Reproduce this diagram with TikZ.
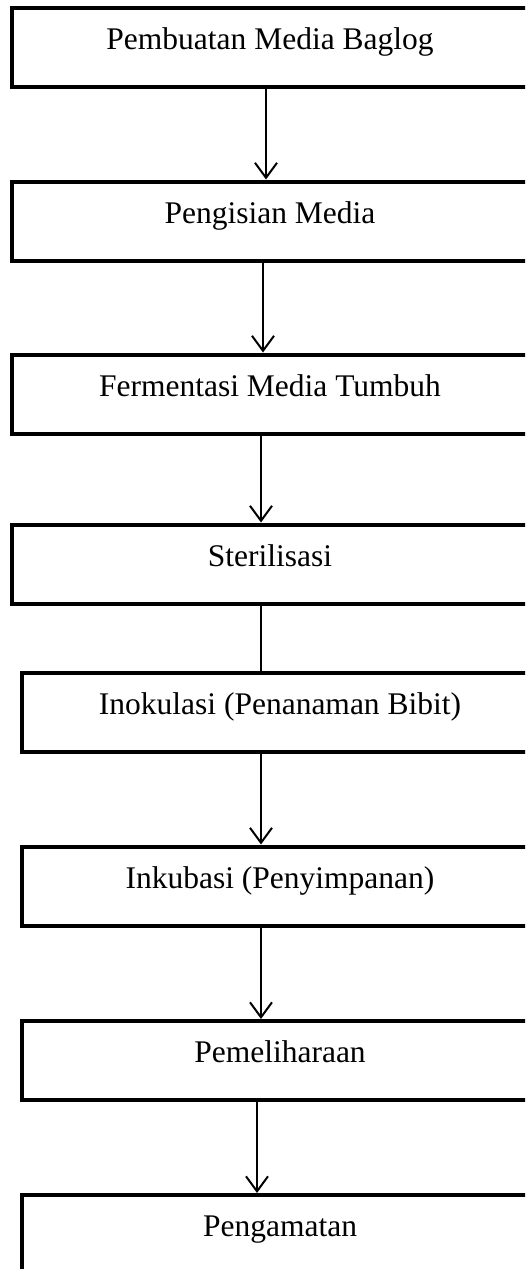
\documentclass[tikz,border=0pt]{standalone}
\usepackage{fontspec}
\setmainfont{Liberation Serif}
\usetikzlibrary{arrows.meta}
\begin{document}
\begin{tikzpicture}[x=1pt,y=-1pt,
  stepbox/.style={draw=black, line width=4pt, rectangle, inner sep=0pt,
    minimum width=516pt, minimum height=79pt,
    text height=20pt, text depth=16pt,
    font=\fontsize{31.5pt}{36pt}\selectfont},
  conn/.style={draw=black, line width=2pt},
  arr/.style={conn, -{Straight Barb[length=15pt,width=22pt,line width=2pt]}}]
\useasboundingbox (0,0) rectangle (525,1269);
\clip (0,0) rectangle (525,1269);
\node[stepbox] (b1) at (270,47.5) {Pembuatan Media Baglog};
\node[stepbox] (b2) at (270,221) {Pengisian Media};
\node[stepbox] (b3) at (270,394) {Fermentasi Media Tumbuh};
\node[stepbox] (b4) at (270,564) {Sterilisasi};
\node[stepbox] (b5) at (280,712) {Inokulasi (Penanaman Bibit)};
\node[stepbox] (b6) at (280,886) {Inkubasi (Penyimpanan)};
\node[stepbox] (b7) at (280,1060.5) {Pemeliharaan};
\node[stepbox, minimum height=110pt, text height=33pt, text depth=61pt] (b8) at (280,1250) {Pengamatan};
\coordinate (x1) at (266,0);
\coordinate (x2) at (263,0);
\coordinate (x3) at (261,0);
\coordinate (x7) at (257,0);
\draw[arr] (b1.south -| x1) -- (b2.north -| x1);
\draw[arr] (b2.south -| x2) -- (b3.north -| x2);
\draw[arr] (b3.south -| x3) -- (b4.north -| x3);
\draw[conn] (b4.south -| x3) -- (b5.north -| x3);
\draw[arr] (b5.south -| x3) -- (b6.north -| x3);
\draw[arr] (b6.south -| x3) -- (b7.north -| x3);
\draw[arr] (b7.south -| x7) -- (b8.north -| x7);
\end{tikzpicture}
\end{document}
